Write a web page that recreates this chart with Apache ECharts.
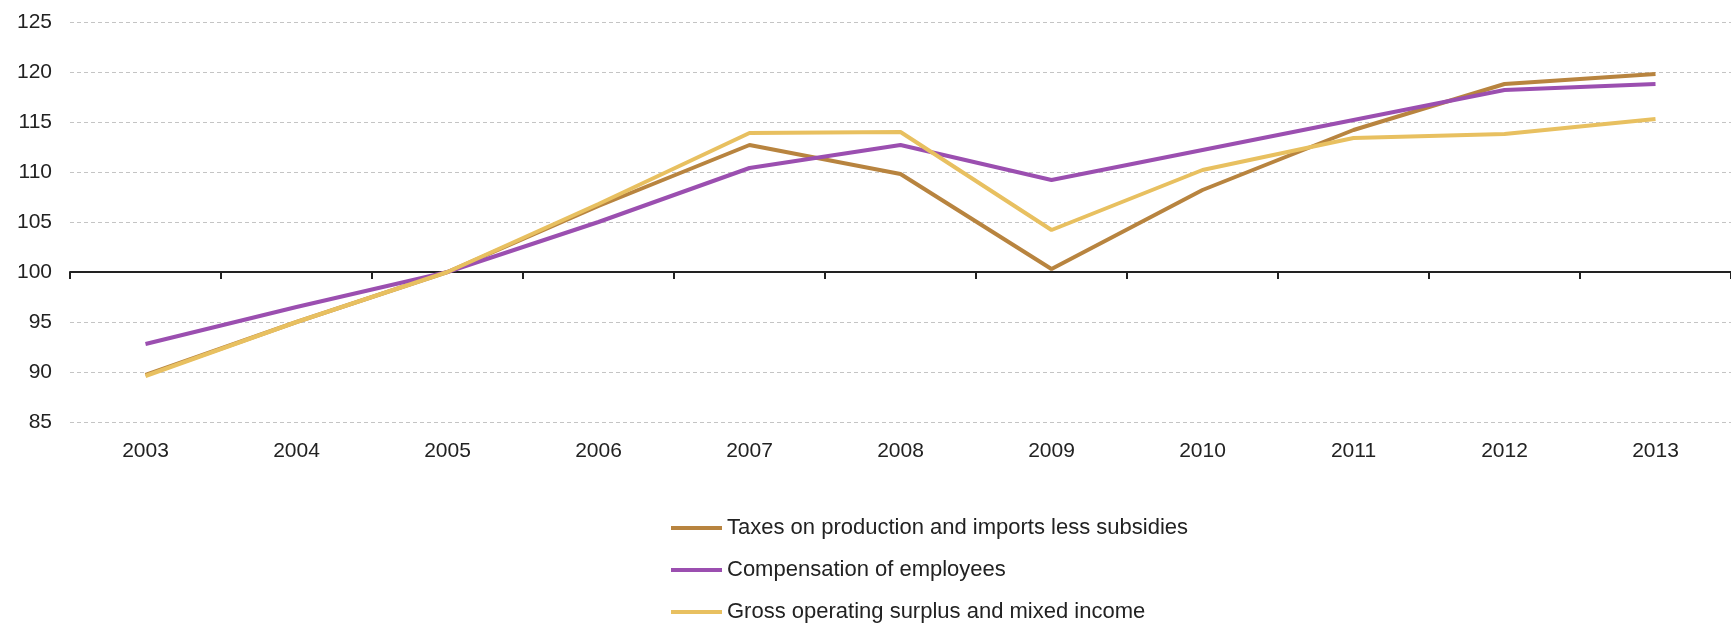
<!DOCTYPE html>
<html>
<head>
<meta charset="utf-8">
<title>Income components index, 2003-2013 (2005 = 100)</title>
<script src="https://cdn.jsdelivr.net/npm/echarts@6/dist/echarts.min.js"></script>
<style>
  html, body { margin: 0; padding: 0; background: #ffffff; }
  #chart { width: 1731px; height: 625px; }
</style>
</head>
<body>
<div id="chart"></div>
<script>
// Index values, 2005 = 100
const years = ['2003', '2004', '2005', '2006', '2007', '2008', '2009', '2010', '2011', '2012', '2013'];
const taxesLessSubsidies = [89.7, 95.0, 100, 106.6, 112.7, 109.8, 100.3, 108.2, 114.2, 118.8, 119.8];
const compensationOfEmployees = [92.8, 96.5, 100, 105.0, 110.4, 112.7, 109.2, 112.2, 115.2, 118.2, 118.8];
const grossOperatingSurplus = [89.6, 95.0, 100, 106.8, 113.9, 114.0, 104.2, 110.2, 113.4, 113.8, 115.3];

const seriesNames = [
  'Taxes on production and imports less subsidies',
  'Compensation of employees',
  'Gross operating surplus and mixed income'
];
const seriesColors = ['#B8843F', '#9B4FB0', '#E8C060'];
const seriesValues = [taxesLessSubsidies, compensationOfEmployees, grossOperatingSurplus];

const yMin = 85, yMax = 125, yStep = 5, baseLine = 100;

const FONT = '"Liberation Sans", Arial, sans-serif';
const chart = echarts.init(document.getElementById('chart'), null, { renderer: 'canvas' });

const option = {
  animation: false,
  backgroundColor: '#ffffff',
  grid: { left: 70, right: -32, top: 22, bottom: 203, containLabel: false },
  xAxis: [
    {
      // year labels along the bottom of the plot
      type: 'category',
      data: years,
      boundaryGap: true,
      position: 'bottom',
      axisLine: { show: false },
      axisTick: { show: false },
      splitLine: { show: false },
      axisLabel: { color: '#222', fontFamily: FONT, fontSize: 21, margin: 19 }
    },
    {
      // solid base line with boundary ticks, moved up to the index base
      type: 'category',
      data: years,
      boundaryGap: true,
      position: 'bottom',
      offset: 0,
      axisLine: { show: true, lineStyle: { color: '#222', width: 2 } },
      axisTick: { show: true, length: 7, lineStyle: { color: '#222', width: 2 } },
      axisLabel: { show: false },
      splitLine: { show: false }
    }
  ],
  yAxis: {
    type: 'value',
    min: yMin,
    max: yMax,
    interval: yStep,
    axisLine: { show: false },
    axisTick: { show: false },
    axisLabel: { color: '#222', fontFamily: FONT, fontSize: 21, margin: 18 },
    splitLine: { show: true, lineStyle: { color: '#c4c4c4', width: 1, type: [4, 3] } }
  },
  legend: {
    orient: 'vertical',
    left: 671,
    top: 517,
    padding: 0,
    itemWidth: 51,
    itemHeight: 4,
    itemGap: 20,
    icon: 'rect',
    textStyle: { color: '#222', fontFamily: FONT, fontSize: 22, lineHeight: 22 },
    data: seriesNames
  },
  series: seriesNames.map((name, i) => ({
    name: name,
    type: 'line',
    data: seriesValues[i],
    xAxisIndex: 0,
    yAxisIndex: 0,
    color: seriesColors[i],
    symbol: 'none',
    smooth: false,
    lineStyle: { width: 4, color: seriesColors[i] },
    itemStyle: { color: seriesColors[i] },
    z: 2 + i
  }))
};

chart.setOption(option);

// place the solid axis line at the index base value
const yBase = chart.convertToPixel({ yAxisIndex: 0 }, baseLine);
const yBottom = chart.convertToPixel({ yAxisIndex: 0 }, yMin);
chart.setOption({ xAxis: [{}, { offset: yBase - yBottom }] });
</script>
</body>
</html>
